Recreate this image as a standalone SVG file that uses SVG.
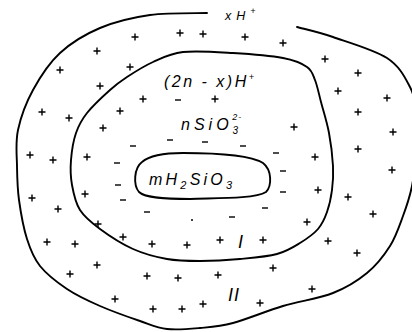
<svg xmlns="http://www.w3.org/2000/svg" xmlns:xlink="http://www.w3.org/1999/xlink" width="412" height="332" viewBox="0 0 412 332">
<style>
.ln{fill:none;stroke:#000;stroke-width:1.9;stroke-linejoin:round;stroke-linecap:round}
.t{font-family:"Liberation Sans","DejaVu Sans",sans-serif;font-style:italic;fill:#000}
.s{stroke:#000;stroke-width:1.4;fill:none}
</style>
<defs>
<path id="p" d="M-3.5,0h7M0,-3.5v7"/>
<path id="m" d="M-3,0h6"/>
</defs>
<rect width="412" height="332" fill="#fff"/>
<g id="outer">
<path class="ln" d="M207,13 C197.5,13.3 167.8,12.5 150,15 C132.2,17.5 115,21.7 100,28 C85,34.3 71.2,42.7 60,53 C48.8,63.3 40,77.2 33,90 C26,102.8 20.7,117.3 18,130 C15.3,142.7 16.8,154.3 17,166 C17.2,177.7 17.3,187.8 19,200 C20.7,212.2 23.5,228 27,239 C30.5,250 33.3,257.7 40,266 C46.7,274.3 57,282.3 67,289 C77,295.7 87.8,300.7 100,306 C112.2,311.3 128.8,317.2 140,321 C151.2,324.8 157,327.8 167,329 C177,330.2 189,329 200,328 C211,327 219.2,326.7 233,323 C246.8,319.3 266.3,311 283,306 C299.7,301 319,298.5 333,293 C347,287.5 357.5,280.8 367,273 C376.5,265.2 384,255.5 390,246 C396,236.5 399.3,226 403,216 C406.7,206 409.8,197 412,186 C414.2,175 415.2,161.8 416,150 C416.8,138.2 418,125.5 417,115 C416,104.5 415,96.5 410,87 C405,77.5 399.8,66.3 387,58 C374.2,49.7 348,42.2 333,37 C318,31.8 303,28.7 297,27"/>
</g>
<g id="layer-I">
<path class="ln" d="M183,52 C196.3,50.5 216.3,52 233,53 C249.7,54 270.7,55.7 283,58 C295.3,60.3 301.7,63.3 307,67 C312.3,70.7 312.7,74.2 315,80 C317.3,85.8 318.7,93.2 321,102 C323.3,110.8 327,122.3 329,133 C331,143.7 332.5,156.5 333,166 C333.5,175.5 333,182.3 332,190 C331,197.7 329.3,205.5 327,212 C324.7,218.5 322.5,223.8 318,229 C313.5,234.2 306.8,238.8 300,243 C293.2,247.2 287,251.3 277,254 C267,256.7 252.8,257.8 240,259 C227.2,260.2 212.2,261 200,261 C187.8,261 178.2,261 167,259 C155.8,257 144.2,254 133,249 C121.8,244 108.8,235.5 100,229 C91.2,222.5 84.7,217.3 80,210 C75.3,202.7 73.5,193.3 72,185 C70.5,176.7 70.3,168.7 71,160 C71.7,151.3 73.3,140.8 76,133 C78.7,125.2 81.3,120.2 87,113 C92.7,105.8 103.3,96 110,90 C116.7,84 119.8,81.7 127,77 C134.2,72.3 143.7,66.2 153,62 C162.3,57.8 169.7,53.5 183,52 Z"/>
</g>
<g id="core">
<path class="ln" d="M183,153 C215,153 250,155 263,163 C272,170 272,186 266,192 C255,199 215,198 190,199 C165,199 145,198 139,192 C133,185 134,168 142,162 C150,155 165,153 183,153 Z"/>
<text class="t" x="149" y="185" font-size="16" letter-spacing="3.2">mH<tspan font-size="11" dy="4">2</tspan><tspan dy="-4">SiO</tspan><tspan font-size="11" dy="4">3</tspan></text>
</g>
<g id="labels">
<text class="t" x="225" y="20" font-size="12.5" letter-spacing="5">xH<tspan font-size="9" dy="-6">+</tspan></text>
<text class="t" x="164" y="87" font-size="16" letter-spacing="2.5">(2n - x)H<tspan font-size="9" dy="-7" letter-spacing="0">+</tspan></text>
<text class="t" x="181" y="130" font-size="16" letter-spacing="4">nSiO<tspan font-size="10" dy="4" letter-spacing="0">3</tspan><tspan font-size="9" dx="-6" dy="-14" letter-spacing="1">2-</tspan></text>
<text class="t" x="238" y="248" font-size="18">I</text>
<text class="t" x="228" y="301" font-size="18" letter-spacing="1">II</text>
</g>
<g id="plus" class="s">
<use xlink:href="#p" x="135" y="37"/><use xlink:href="#p" x="180" y="33"/><use xlink:href="#p" x="203" y="34"/><use xlink:href="#p" x="245" y="37"/><use xlink:href="#p" x="283" y="43"/><use xlink:href="#p" x="97" y="51"/><use xlink:href="#p" x="325" y="59"/><use xlink:href="#p" x="60" y="70"/><use xlink:href="#p" x="130" y="67"/><use xlink:href="#p" x="358" y="73"/><use xlink:href="#p" x="100" y="86"/><use xlink:href="#p" x="338" y="91"/><use xlink:href="#p" x="387" y="98"/><use xlink:href="#p" x="143" y="99"/><use xlink:href="#p" x="215" y="99"/><use xlink:href="#p" x="42" y="112"/><use xlink:href="#p" x="69" y="118"/><use xlink:href="#p" x="120" y="111"/><use xlink:href="#p" x="358" y="112"/><use xlink:href="#p" x="103" y="128"/><use xlink:href="#p" x="294" y="127"/><use xlink:href="#p" x="393" y="132"/><use xlink:href="#p" x="30" y="155"/><use xlink:href="#p" x="53" y="160"/><use xlink:href="#p" x="87" y="157"/><use xlink:href="#p" x="315" y="157"/><use xlink:href="#p" x="358" y="149"/>
<use xlink:href="#p" x="392" y="170"/><use xlink:href="#p" x="32" y="198"/><use xlink:href="#p" x="85" y="194"/><use xlink:href="#p" x="58" y="209"/><use xlink:href="#p" x="318" y="190"/><use xlink:href="#p" x="348" y="197"/><use xlink:href="#p" x="373" y="214"/><use xlink:href="#p" x="98" y="224"/><use xlink:href="#p" x="307" y="222"/><use xlink:href="#p" x="123" y="237"/><use xlink:href="#p" x="152" y="244"/><use xlink:href="#p" x="187" y="245"/><use xlink:href="#p" x="220" y="240"/><use xlink:href="#p" x="263" y="240"/><use xlink:href="#p" x="47" y="242"/><use xlink:href="#p" x="75" y="244"/><use xlink:href="#p" x="328" y="241"/><use xlink:href="#p" x="357" y="253"/><use xlink:href="#p" x="97" y="265"/><use xlink:href="#p" x="70" y="274"/><use xlink:href="#p" x="147" y="276"/><use xlink:href="#p" x="178" y="278"/><use xlink:href="#p" x="218" y="275"/><use xlink:href="#p" x="273" y="268"/><use xlink:href="#p" x="312" y="289"/><use xlink:href="#p" x="115" y="299"/><use xlink:href="#p" x="153" y="309"/><use xlink:href="#p" x="182" y="309"/><use xlink:href="#p" x="203" y="304"/><use xlink:href="#p" x="260" y="303"/>
</g>
<g id="minus" class="s">
<use xlink:href="#m" x="178" y="100"/><use xlink:href="#m" x="170" y="140"/><use xlink:href="#m" x="205" y="142"/><use xlink:href="#m" x="243" y="146"/><use xlink:href="#m" x="133" y="146"/><use xlink:href="#m" x="276" y="153"/><use xlink:href="#m" x="117" y="163"/>
<use xlink:href="#m" x="283" y="171"/><use xlink:href="#m" x="118" y="185"/><use xlink:href="#m" x="123" y="200"/><use xlink:href="#m" x="283" y="192"/><use xlink:href="#m" x="147" y="212"/><use xlink:href="#m" x="265" y="208"/><use xlink:href="#m" x="232" y="217"/><path d="M191,220h2"/>
</g>
</svg>
